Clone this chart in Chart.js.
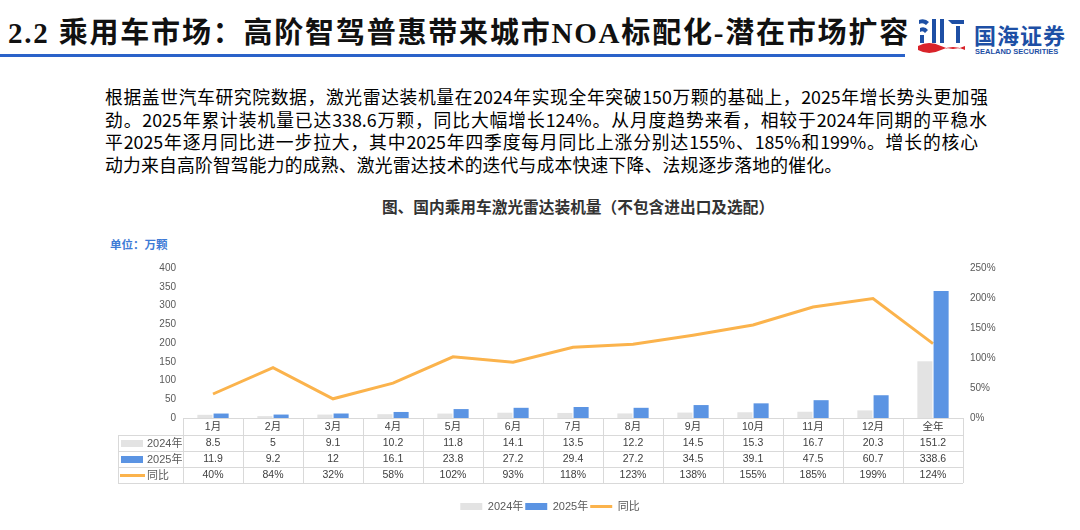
<!DOCTYPE html>
<html>
<head>
<meta charset="UTF-8">
<title>激光雷达装机量</title>
<style>
body{
	margin: 0;
	width: 1080px;
	height: 530px;
	background-color: #fff;
	position: relative;
	overflow: hidden;
	font-family: "Noto Sans CJK SC", sans-serif;
}
.title{
	position: absolute; left: 8px; top: 9px;
	font-family: "Liberation Serif", "Noto Sans CJK SC", serif;
	font-weight: bold; font-size: 29px; color: #111;
	white-space: nowrap; letter-spacing: 1.8px;
}
.topline{
	position: absolute; left: 0; top: 54px; width: 905px; height: 3px;
	background-color: #2a62c9;
}
.logo{ position: absolute; left: 916px; top: 16px; }
.logo .cn{
	position: absolute; left: 58px; top: 2px; white-space: nowrap;
	font-size: 22px; font-weight: bold; color: #1d4fa5; letter-spacing: 1px;
}
.logo .en{
	position: absolute; left: 59px; top: 31px; white-space: nowrap;
	font-family: "Liberation Sans"; font-size: 7.5px; font-weight: bold; color: #1d4fa5;
}
.txt{
	position: absolute; left: 105px; top: 85px;
	font-size: 17.8px; line-height: 22.5px; color: #000; white-space: nowrap;
}
.txt div{ text-align: justify; text-align-last: justify; }
.ctitle{
	position: absolute; left: 0; width: 1156px; top: 195px; text-align: center;
	font-size: 15.7px; font-weight: bold; color: #333;
}
.unit{
	position: absolute; left: 110px; top: 236px;
	font-size: 11.5px; font-weight: bold; color: #3e7bd6;
}
#box{ position: absolute; left: 100px; top: 255px; width: 900px; height: 267px; }
</style>
</head>
<body>

<div class="title">2.2 乘用车市场：高阶智驾普惠带来城市NOA标配化-潜在市场扩容</div>
<div class="topline"></div>

<div class="logo">
	<svg width="52" height="40" viewBox="0 0 52 40">
		<path d="M3 4 Q9 2 13 6 L10 9 Q7 6 3 8 Z" fill="#1d4fa5"/>
		<path d="M4 12 Q9 10 12 14 L9 17 Q7 14 4 16 Z" fill="#1d4fa5"/>
		<rect x="4" y="19" width="4" height="8" fill="#1d4fa5"/>
		<rect x="16" y="3" width="4" height="24" fill="#1d4fa5"/>
		<rect x="24" y="3" width="4" height="24" fill="#1d4fa5"/>
		<path d="M32 4 L48 4 L48 8 L36 8 Z" fill="#1d4fa5"/>
		<rect x="40" y="10" width="4" height="17" fill="#1d4fa5"/>
		<path d="M2 30 Q13 24 25 30 T49 30 L49 34 Q37 28 25 34 T2 34 Z" fill="#d9232a"/>
	</svg>
	<div class="cn">国海证券</div>
	<div class="en">SEALAND SECURITIES</div>
</div>

<div class="txt">
	<div style="width: 883px">根据盖世汽车研究院数据，激光雷达装机量在2024年实现全年突破150万颗的基础上，2025年增长势头更加强</div>
	<div style="width: 882px">劲。2025年累计装机量已达338.6万颗，同比大幅增长124%。从月度趋势来看，相较于2024年同期的平稳水</div>
	<div style="width: 873px">平2025年逐月同比进一步拉大，其中2025年四季度每月同比上涨分别达155%、185%和199%。增长的核心</div>
	<div style="text-align-last: left; letter-spacing: 0.2px">动力来自高阶智驾能力的成熟、激光雷达技术的迭代与成本快速下降、法规逐步落地的催化。</div>
</div>

<div class="ctitle">图、国内乘用车激光雷达装机量（不包含进出口及选配）</div>
<div class="unit">单位：万颗</div>

<div id="box"><canvas id="myChart"></canvas></div>

<script src="https://cdn.jsdelivr.net/npm/chart.js"></script>
<script>
// 数据 (万颗, 同比%)
const months = ['1月','2月','3月','4月','5月','6月','7月','8月','9月','10月','11月','12月','全年'];
const y2024 = [8.5, 5, 9.1, 10.2, 11.8, 14.1, 13.5, 12.2, 14.5, 15.3, 16.7, 20.3, 151.2];
const y2025 = [11.9, 9.2, 12, 16.1, 23.8, 27.2, 29.4, 27.2, 34.5, 39.1, 47.5, 60.7, 338.6];
const yoy = [40, 84, 32, 58, 102, 93, 118, 123, 138, 155, 185, 199, 124];
const leftTicks = [0, 50, 100, 150, 200, 250, 300, 350, 400];
const rightTicks = [0, 50, 100, 150, 200, 250];

const grayC = '#e3e3e3', blueC = '#5b94e3', orangeC = '#fbb34c';

Chart.defaults.font.family = '"Liberation Sans", "Noto Sans CJK SC", sans-serif';
Chart.defaults.font.size = 10;
Chart.defaults.color = '#595959';

// 图表下面的数据表
const tablePlugin = {
	id: 'dataTable',
	afterDraw(chart){
		const ctx = chart.ctx, x = chart.scales.x, a = chart.chartArea;
		const colW = x.getPixelForValue(1) - x.getPixelForValue(0);
		const top = a.bottom;
		const rows = [top, top + 17, top + 33, top + 49, top + 65];
		const labLeft = 18;
		ctx.save();
		ctx.strokeStyle = '#d9d9d9';
		ctx.lineWidth = 1;
		ctx.beginPath();
		ctx.moveTo(a.left, Math.round(top) + 0.5); ctx.lineTo(a.right, Math.round(top) + 0.5);
		for (let i = 1; i < rows.length; i++){
			ctx.moveTo(labLeft, Math.round(rows[i]) + 0.5);
			ctx.lineTo(a.right, Math.round(rows[i]) + 0.5);
		}
		for (let c = 0; c <= months.length; c++){
			const xx = Math.round(x.getPixelForValue(c) - colW / 2) + 0.5;
			ctx.moveTo(xx, top); ctx.lineTo(xx, rows[4]);
		}
		ctx.moveTo(labLeft + 0.5, rows[1]); ctx.lineTo(labLeft + 0.5, rows[4]);
		ctx.stroke();

		ctx.textAlign = 'center';
		ctx.textBaseline = 'middle';
		ctx.fillStyle = '#404040';
		ctx.font = '10.5px "Liberation Sans", "Noto Sans CJK SC"';
		months.forEach(function(m, i){
			const cx = x.getPixelForValue(i);
			ctx.fillText(m, cx, top + 9);
			ctx.fillText(String(y2024[i]), cx, top + 25.5);
			ctx.fillText(String(y2025[i]), cx, top + 41.5);
			ctx.fillText(yoy[i] + '%', cx, top + 57.5);
		});

		// 左侧图例
		ctx.textAlign = 'left';
		ctx.font = '11px "Liberation Sans", "Noto Sans CJK SC"';
		ctx.fillStyle = grayC; ctx.fillRect(labLeft + 3, top + 22, 22, 7);
		ctx.fillStyle = blueC; ctx.fillRect(labLeft + 3, top + 38, 22, 7);
		ctx.strokeStyle = orangeC; ctx.lineWidth = 3;
		ctx.beginPath(); ctx.moveTo(labLeft + 2, top + 57.5); ctx.lineTo(labLeft + 27, top + 57.5); ctx.stroke();
		ctx.fillStyle = '#595959';
		ctx.fillText('2024年', labLeft + 29, top + 25.5);
		ctx.fillText('2025年', labLeft + 29, top + 41.5);
		ctx.fillText('同比', labLeft + 29, top + 57.5);
		ctx.restore();
	}
};

const chart = new Chart(document.getElementById('myChart'), {
	type: 'bar',
	data: {
		labels: months,
		datasets: [{
			label: '2024年',
			data: y2024,
			backgroundColor: grayC,
			borderWidth: 0,
			pointStyle: 'rect',
			yAxisID: 'y',
			categoryPercentage: 0.54,
			barPercentage: 0.93
		},{
			label: '2025年',
			data: y2025,
			backgroundColor: blueC,
			borderWidth: 0,
			pointStyle: 'rect',
			yAxisID: 'y',
			categoryPercentage: 0.54,
			barPercentage: 0.93
		},{
			type: 'line',
			label: '同比',
			data: yoy,
			borderColor: orangeC,
			backgroundColor: orangeC,
			borderWidth: 3,
			pointRadius: 0,
			pointStyle: 'line',
			tension: 0,
			yAxisID: 'y1'
		}]
	},
	options: {
		responsive: true,
		maintainAspectRatio: false,
		animation: false,
		layout: { padding: { top: 7 } },
		plugins: {
			legend: {
				position: 'bottom',
				labels: {
					usePointStyle: true,
					pointStyleWidth: 22,
					boxHeight: 7,
					padding: 2,
					font: { size: 11 }
				}
			},
			tooltip: { enabled: false }
		},
		scales: {
			x: {
				grid: { display: false },
				border: { display: false },
				ticks: { display: false },
				afterFit: function(s){ s.height = 81; }
			},
			y: {
				position: 'left',
				min: 0, max: 400,
				grid: { display: false, drawTicks: false },
				border: { display: false },
				ticks: { padding: 7 },
				afterBuildTicks: function(s){ s.ticks = leftTicks.map(v => ({ value: v })); },
				afterFit: function(s){ s.width = 83; }
			},
			y1: {
				position: 'right',
				min: 0, max: 250,
				grid: { display: false, drawTicks: false },
				border: { display: false },
				ticks: { padding: 7, callback: v => v + '%' },
				afterBuildTicks: function(s){ s.ticks = rightTicks.map(v => ({ value: v })); },
				afterFit: function(s){ s.width = 37; }
			}
		}
	},
	plugins: [tablePlugin]
});
</script>
</body>
</html>
